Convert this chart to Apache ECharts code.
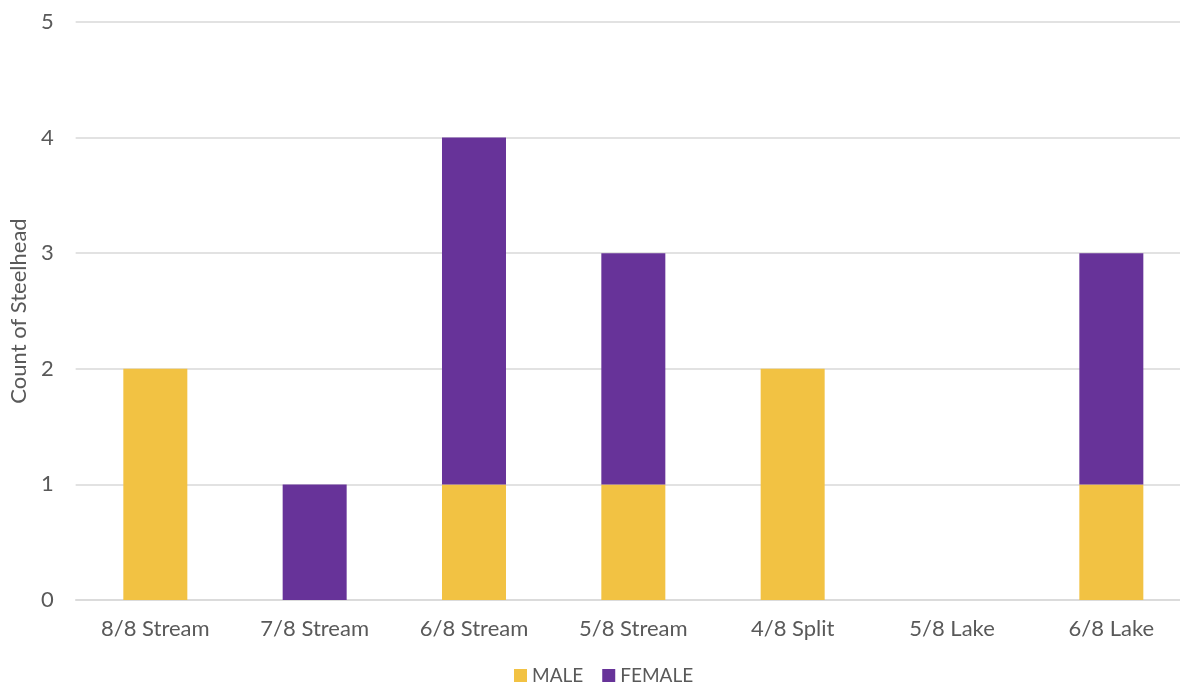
<!DOCTYPE html>
<html>
<head>
<meta charset="utf-8">
<script src="https://cdn.jsdelivr.net/npm/echarts@6/dist/echarts.min.js"></script>
<style>
  html, body { margin: 0; padding: 0; background: #fff; overflow: hidden; width: 1180px; height: 692px; }
  /* the plot area runs a little past the right edge of the window */
  #chart { width: 1191px; height: 692px; }
</style>
</head>
<body>
<div id="chart"></div>
<script>
// Steelhead counts by sampling event, split by sex
const categories = ['8/8 Stream', '7/8 Stream', '6/8 Stream', '5/8 Stream', '4/8 Split', '5/8 Lake', '6/8 Lake'];
const maleCounts = [2, 0, 1, 1, 2, 0, 1];
const femaleCounts = [0, 1, 3, 2, 0, 0, 2];
const yTicks = [0, 1, 2, 3, 4, 5];

const FONT = 'Lato, "Open Sans", sans-serif';
const TEXT = '#595959';

const chart = echarts.init(document.getElementById('chart'));
chart.setOption({
  animation: false,
  textStyle: { fontFamily: FONT },
  grid: { left: 74, right: 0, top: 22, bottom: 92 },
  legend: {
    bottom: 2,
    left: 509,
    itemWidth: 13,
    itemHeight: 13,
    itemGap: 19,
    icon: 'rect',
    textStyle: { fontFamily: FONT, fontSize: 19, color: TEXT },
    data: ['MALE', 'FEMALE']
  },
  xAxis: {
    type: 'category',
    data: categories,
    axisLine: { lineStyle: { color: '#d9d9d9', width: 1.5 } },
    axisTick: { show: false },
    axisLabel: { fontFamily: FONT, fontSize: 22, color: TEXT, margin: 18 }
  },
  yAxis: {
    type: 'value',
    min: yTicks[0],
    max: yTicks[yTicks.length - 1],
    interval: 1,
    name: 'Count of Steelhead',
    nameLocation: 'middle',
    nameGap: 44,
    nameTextStyle: { fontFamily: FONT, fontSize: 22, color: TEXT },
    axisLine: { show: false },
    axisTick: { show: false },
    axisLabel: { fontFamily: FONT, fontSize: 22, color: TEXT, margin: 22 },
    splitLine: { lineStyle: { color: '#d9d9d9', width: 1.5 } }
  },
  series: [
    {
      name: 'MALE',
      type: 'bar',
      stack: 'sex',
      barWidth: 64,
      itemStyle: { color: '#F2C243' },
      data: maleCounts
    },
    {
      name: 'FEMALE',
      type: 'bar',
      stack: 'sex',
      barWidth: 64,
      itemStyle: { color: '#673399' },
      data: femaleCounts
    }
  ]
});
</script>
</body>
</html>
